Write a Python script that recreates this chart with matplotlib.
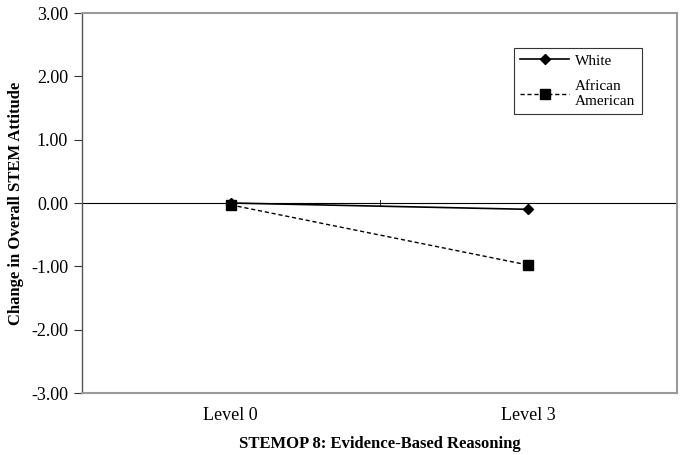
import numpy as np
import matplotlib.pyplot as plt

# Data
levels = ["Level 0", "Level 3"]
white = [0.00, -0.10]
african_american = [-0.03, -0.98]

plt.rcParams['font.family'] = ['Liberation Serif', 'DejaVu Serif']

fig = plt.figure(figsize=(6.85, 4.55), dpi=100)
ax = fig.add_axes([82 / 685, 1 - 393 / 455, (677 - 82) / 685, (393 - 13) / 455])

xpos = np.arange(len(levels)) + 0.5
ax.plot(xpos, white, '-', color='black', lw=1.2, marker='D', markersize=5,
        label="White")
ax.plot(xpos, african_american, '--', color='black', lw=1.0, marker='s',
        markersize=6.5, dashes=(3, 2), label="African\nAmerican")

# zero line with category divider tick
ax.axhline(0, color='black', lw=0.8, zorder=1)
ax.plot([1, 1], [-0.05, 0.05], color='black', lw=0.6)

ax.set_xlim(0, 2)
ax.set_ylim(-3, 3)
ax.set_yticks(np.arange(-3, 3.01, 1))
ax.set_yticklabels([f"{v:.2f}" for v in np.arange(-3, 3.01, 1)], fontsize=13)
ax.set_xticks(xpos)
ax.set_xticklabels(levels, fontsize=13)
ax.tick_params(axis='x', length=0, pad=10)
ax.tick_params(axis='y', direction='out', length=6, width=0.8, colors='#333333',
               labelcolor='black', pad=4)

for side in ['top', 'right', 'bottom']:
    ax.spines[side].set_color('#999999')
    ax.spines[side].set_linewidth(1.5)
ax.spines['left'].set_color('#555555')
ax.spines['left'].set_linewidth(1.0)

ax.set_ylabel("Change in Overall STEM Attitude", fontsize=12, fontweight='bold',
              labelpad=5)
ax.set_xlabel("STEMOP 8: Evidence-Based Reasoning", fontsize=12, fontweight='bold',
              labelpad=9)

leg = ax.legend(loc='upper left', bbox_to_anchor=((514 - 82) / 595, (393 - 48) / 380),
                fontsize=11, frameon=True, fancybox=False, edgecolor='black',
                handlelength=3.2, handletextpad=0.4, labelspacing=0.8,
                borderpad=0.4, borderaxespad=0)
leg.get_frame().set_linewidth(0.8)

fig.savefig("out.png", dpi=100)
